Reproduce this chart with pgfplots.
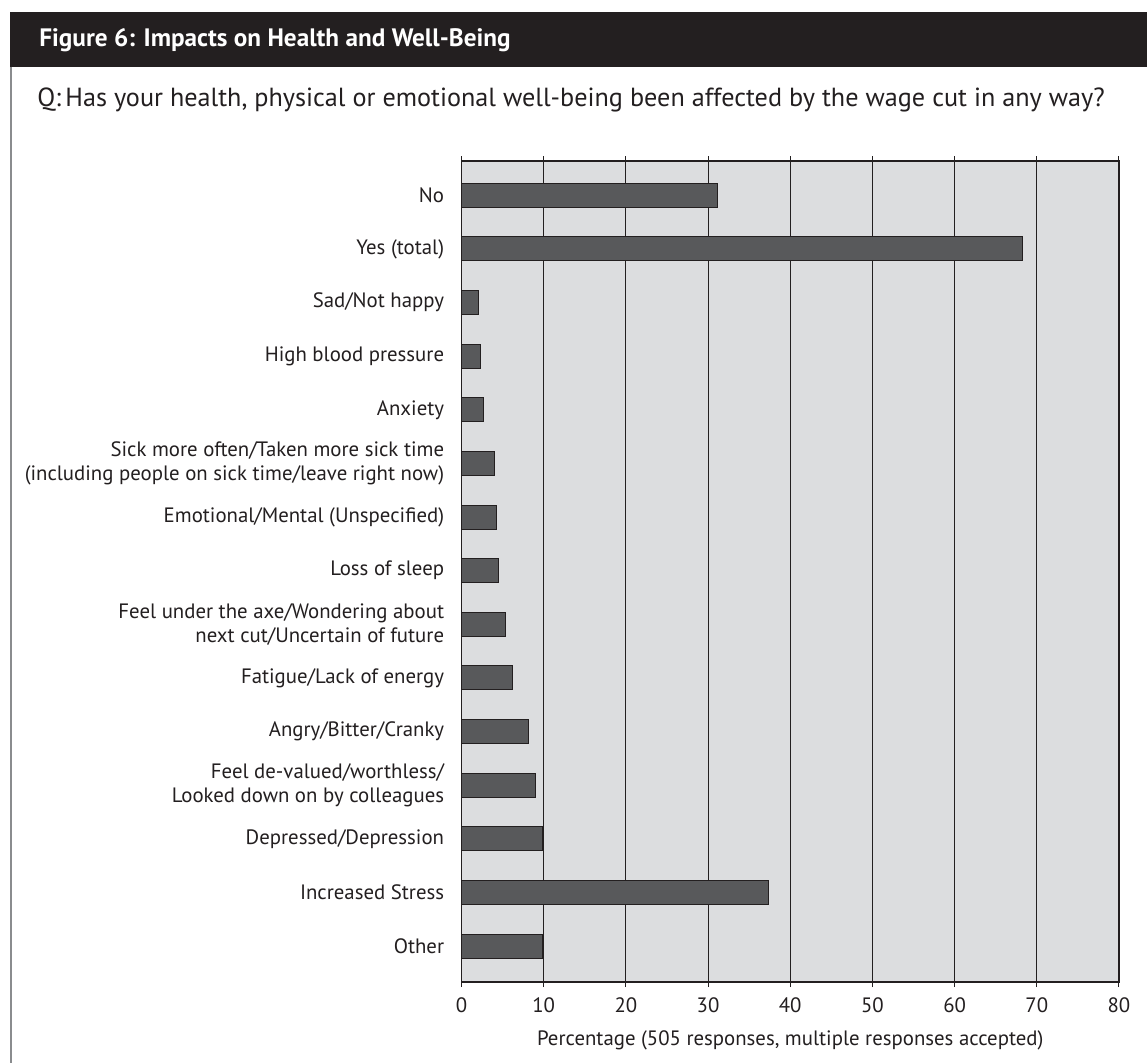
\documentclass[border=0pt]{standalone}
\usepackage{fontspec}
\setmainfont{PT Sans}
\usepackage{pgfplots}
\pgfplotsset{compat=1.18}
\definecolor{hdr}{HTML}{231F20}
\definecolor{bgc}{HTML}{DCDDDF}
\definecolor{barc}{HTML}{58595B}
\definecolor{framec}{HTML}{8A8C8E}
\begin{document}
\begin{tikzpicture}[x=0.5pt,y=-0.5pt]
\fill[white] (0,0) rectangle (1147,1063);
\fill[hdr] (10,12) rectangle (1147,67);
\draw[framec, line width=0.8pt] (11,67) -- (11,1063);
\node[anchor=west, text=white, inner sep=0pt, font=\bfseries\fontsize{12.6}{14}\selectfont] at (39,40) {Figure 6: Impacts on Health and Well-Being};
\node[anchor=west, inner sep=0pt, text=hdr, font=\fontsize{13.1}{16}\selectfont] at (37,100) {Q:\,Has your health, physical or emotional well-being been affected by the wage cut in any way?};
\begin{axis}[
  at={(230.75pt,-80.5pt)}, anchor=north west,
  scale only axis, width=328.75pt, height=410.5pt,
  xbar, bar width=12pt,
  xmin=0, xmax=80, xtick={0,10,...,80},
  ymin=-0.64, ymax=14.67, y dir=reverse,
  ytick={0,...,14},
  yticklabels={No, Yes (total), Sad/Not happy, High blood pressure, Anxiety,
    {Sick more often/Taken more sick time\\(including people on sick time/leave right now)},
    Emotional/Mental (Unspecified), Loss of sleep,
    {Feel under the axe/Wondering about\\next cut/Uncertain of future},
    Fatigue/Lack of energy, Angry/Bitter/Cranky,
    {Feel de-valued/worthless/\\Looked down on by colleagues},
    Depressed/Depression, Increased Stress, Other},
  axis background/.style={fill=bgc},
  axis line style={hdr, line width=0.6pt},
  xmajorgrids, grid style={hdr, line width=0.5pt},
  tick align=outside, major tick length=2.5pt,
  ytick style={draw=none}, xtick style={hdr, line width=0.5pt},
  /pgf/number format/assume math mode=true,
  xticklabel style={font=\fontsize{10.4}{12}\selectfont, text=hdr, yshift=-2pt},
  yticklabel style={font=\fontsize{10.4}{12}\selectfont, text=hdr, align=right, inner xsep=0pt, xshift=-6pt},
  xlabel={Percentage (505 responses, multiple responses accepted)},
  xlabel style={font=\fontsize{10.4}{12}\selectfont, text=hdr, yshift=-2pt},
  clip=false,
]
\addplot[fill=barc, draw=hdr, line width=0.5pt] coordinates {
 (31.2,0) (68.3,1) (2.1,2) (2.3,3) (2.7,4) (4.0,5) (4.3,6) (4.5,7)
 (5.4,8) (6.2,9) (8.2,10) (9.0,11) (9.8,12) (37.3,13) (9.8,14)};
\end{axis}
\end{tikzpicture}
\end{document}
